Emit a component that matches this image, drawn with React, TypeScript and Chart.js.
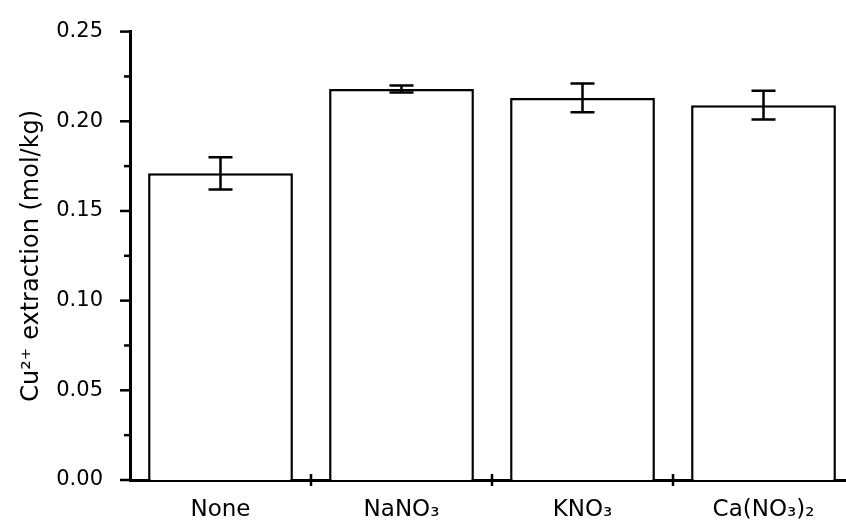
import React, { useEffect, useRef } from "react";
import { Chart, registerables } from "chart.js";

Chart.register(...registerables);

// Extraction data per electrolyte
const categories = ["None", "NaNO₃", "KNO₃", "Ca(NO₃)₂"];
const extraction = [0.171, 0.218, 0.213, 0.209];
const errors = [0.009, 0.002, 0.008, 0.008];

// Axis ticks
const yMajorTicks = [0, 0.05, 0.1, 0.15, 0.2, 0.25];
const yMinorTicks = [0.025, 0.075, 0.125, 0.175, 0.225];

const FONT = '"DejaVu Sans", Verdana, sans-serif';
const INK = "#000";

// Outward major/minor ticks on the y axis and crossing ticks between categories
const axisTicksPlugin = {
  id: "axisTicks",
  afterDraw(chart: any) {
    const { ctx, chartArea, scales } = chart;
    const x = scales.x;
    const y = scales.y;
    ctx.save();
    ctx.strokeStyle = INK;
    ctx.lineWidth = 2.5;
    const left = chartArea.left;
    const stroke = (x0: number, y0: number, x1: number, y1: number) => {
      ctx.beginPath();
      ctx.moveTo(x0, y0);
      ctx.lineTo(x1, y1);
      ctx.stroke();
    };
    yMajorTicks.forEach((v) => {
      const py = y.getPixelForValue(v);
      stroke(left - 10, py, left, py);
    });
    yMinorTicks.forEach((v) => {
      const py = y.getPixelForValue(v);
      stroke(left - 6, py, left, py);
    });
    const half = (x.getPixelForValue(1) - x.getPixelForValue(0)) / 2;
    const base = chartArea.bottom;
    for (let i = 1; i <= categories.length; i++) {
      const px = x.getPixelForValue(i) - half;
      stroke(px, base - 6, px, base + 6);
    }
    ctx.restore();
  },
};

// Error bars with caps
const errorBarsPlugin = {
  id: "errorBars",
  afterDatasetsDraw(chart: any) {
    const { ctx, scales } = chart;
    const y = scales.y;
    const meta = chart.getDatasetMeta(0);
    ctx.save();
    ctx.strokeStyle = INK;
    ctx.lineWidth = 2.5;
    meta.data.forEach((bar: any, i: number) => {
      const cx = bar.x;
      const top = y.getPixelForValue(extraction[i] + errors[i]);
      const bottom = y.getPixelForValue(extraction[i] - errors[i]);
      const cap = 12;
      ctx.beginPath();
      ctx.moveTo(cx, top);
      ctx.lineTo(cx, bottom);
      ctx.moveTo(cx - cap, top);
      ctx.lineTo(cx + cap, top);
      ctx.moveTo(cx - cap, bottom);
      ctx.lineTo(cx + cap, bottom);
      ctx.stroke();
    });
    ctx.restore();
  },
};

export default function App() {
  const canvasRef = useRef<HTMLCanvasElement>(null);

  useEffect(() => {
    document.body.style.margin = "0";
    document.body.style.overflow = "hidden";
    const canvas = canvasRef.current;
    if (!canvas) return;
    const chart = new Chart(canvas, {
      type: "bar",
      data: {
        labels: categories,
        datasets: [
          {
            data: extraction,
            backgroundColor: "#ffffff",
            borderColor: INK,
            borderWidth: 2.5,
            categoryPercentage: 1,
            barPercentage: 0.8,
          },
        ],
      },
      options: {
        responsive: false,
        animation: false,
        devicePixelRatio: 1,
        layout: { padding: { left: 0, right: 16, top: 27, bottom: 0 } },
        plugins: {
          legend: { display: false },
          tooltip: { enabled: false },
        },
        scales: {
          x: {
            type: "category",
            offset: true,
            grid: { display: false },
            border: { display: true, color: INK, width: 3 },
            ticks: {
              color: INK,
              padding: 8,
              maxRotation: 0,
              font: { family: FONT, size: 23 },
            },
            afterFit(scale: any) {
              scale.height = 44;
            },
          },
          y: {
            min: 0,
            max: 0.25,
            grid: { display: false },
            border: { display: true, color: INK, width: 3 },
            ticks: {
              stepSize: 0.05,
              color: INK,
              padding: 19,
              font: { family: FONT, size: 21 },
              callback: (v: any) => Number(v).toFixed(2),
            },
            title: {
              display: true,
              text: "Cu²⁺ extraction (mol/kg)",
              color: INK,
              font: { family: FONT, size: 24 },
              padding: { top: 17, bottom: 0 },
            },
            afterFit(scale: any) {
              scale.width = 130;
            },
          },
        },
      },
      plugins: [errorBarsPlugin, axisTicksPlugin],
    });
    return () => chart.destroy();
  }, []);

  return (
    <div style={{ width: 846, height: 524, overflow: "hidden", background: "#fff" }}>
      <canvas
        ref={canvasRef}
        width={870}
        height={524}
        style={{ display: "block", width: 870, height: 524 }}
      />
    </div>
  );
}
